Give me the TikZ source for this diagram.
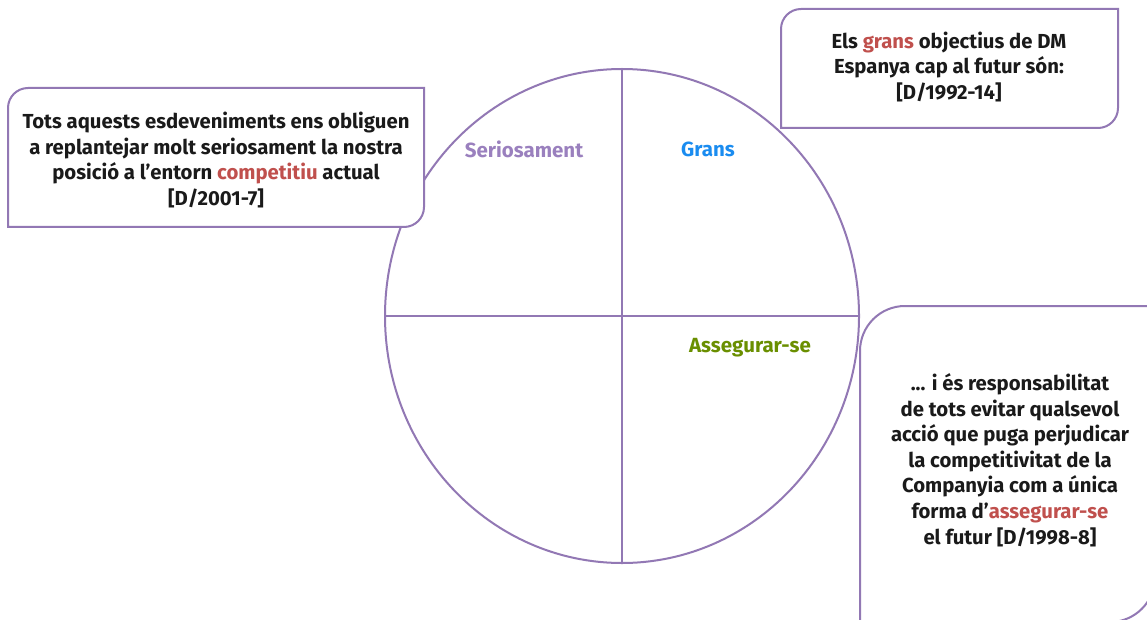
\documentclass[tikz,border=0pt]{standalone}
\usepackage{fontspec}
\setmainfont{Fira Sans}
\usetikzlibrary{shapes.geometric}
\definecolor{linepurple}{HTML}{9278B4}
\definecolor{labpurple}{HTML}{9A80BE}
\definecolor{hred}{HTML}{C0504D}
\definecolor{hblue}{HTML}{1A8CF0}
\definecolor{hgreen}{HTML}{6A8F00}
\definecolor{txt}{HTML}{1A1A1A}
\newcommand{\hl}[1]{\textcolor{hred}{#1}}
\begin{document}
\begin{tikzpicture}[x=1pt,y=-1pt,
  outline/.style={draw=linepurple,line width=2pt,fill=white},
  boxtext/.style={align=center,inner sep=0pt,text=txt,font=\fontsize{20.3}{25.6}\selectfont\bfseries},
  quadlabel/.style={inner sep=0pt,font=\fontsize{20.5}{24}\selectfont\bfseries}]
\useasboundingbox (0,0) rectangle (1147,620);
\fill[white] (0,0) rectangle (1147,620);
% circle with quadrants
\node[ellipse,draw=linepurple,line width=2pt,inner sep=0pt,outer sep=0pt,
  minimum width=474pt,minimum height=494pt] (circ) at (622,316) {};
\draw[draw=linepurple,line width=2pt] (circ.north) -- (circ.south);
\draw[draw=linepurple,line width=2pt] (circ.west) -- (circ.east);
\node[quadlabel,text=labpurple] (ser) at (524,149) {Seriosament};
\node[quadlabel,text=hblue] (gra) at (708,149) {Grans};
\node[quadlabel,text=hgreen] (ass) at (750,348) {Assegurar-se};
% left box
\draw[outline] (8,227) -- (8,108) arc[start angle=180,end angle=90,radius=20pt]
  -- (424,88) -- (424,207) arc[start angle=0,end angle=-90,radius=20pt] -- cycle;
\node[boxtext] (lefttext) at (216,160) {Tots aquests esdeveniments ens obliguen\\
  a replantejar molt seriosament la nostra\\
  posició a l’entorn \hl{competitiu} actual\\
  {[D/2001-7]}};
% top right box
\draw[outline] (781,128) -- (781,29) arc[start angle=180,end angle=90,radius=20pt]
  -- (1118,9) -- (1118,108) arc[start angle=0,end angle=-90,radius=20pt] -- cycle;
\node[boxtext] (toptext) at (949,67) {Els \hl{grans} objectius de DM\\
  Espanya cap al futur són:\\
  {[D/1992-14]}};
% bottom right box
\draw[outline] (860,640) -- (860,351) arc[start angle=180,end angle=90,radius=45pt]
  -- (1155,306) -- (1155,577) arc[start angle=0,end angle=-90,radius=45pt] -- (860,622) -- cycle;
\node[boxtext] (bottext) at (1010,460) {... i és responsabilitat\\
  de tots evitar qualsevol\\
  acció que puga perjudicar\\
  la competitivitat de la\\
  Companyia com a única\\
  forma d’\hl{assegurar-se}\\
  el futur [D/1998-8]};
\end{tikzpicture}
\end{document}
